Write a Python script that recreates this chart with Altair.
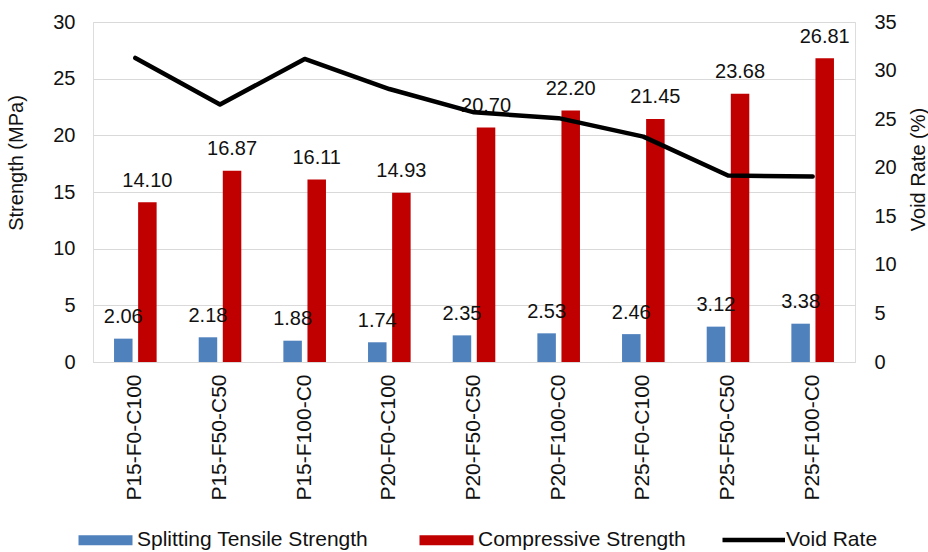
import altair as alt
import pandas as pd

# Mix designs along the x axis
categories = [
    "P15-F0-C100", "P15-F50-C50", "P15-F100-C0",
    "P20-F0-C100", "P20-F50-C50", "P20-F100-C0",
    "P25-F0-C100", "P25-F50-C50", "P25-F100-C0",
]
# Strength results (MPa)
tensile = [2.06, 2.18, 1.88, 1.74, 2.35, 2.53, 2.46, 3.12, 3.38]
compressive = [14.10, 16.87, 16.11, 14.93, 20.70, 22.20, 21.45, 23.68, 26.81]
# Void rate (%)
void_rate = [31.3, 26.5, 31.2, 28.1, 25.7, 25.1, 23.2, 19.2, 19.1]

bar_series = ["Splitting Tensile Strength", "Compressive Strength"]
bar_colors = ["#4f81bd", "#c00000"]
line_series = ["Void Rate"]
line_colors = ["#000000"]

FONT = "Liberation Sans"
TEXT = "#111111"
GRID = "#d9d9d9"

bar_rows = []
for cat, t, c in zip(categories, tensile, compressive):
    bar_rows.append({"category": cat, "series": bar_series[0], "value": t})
    bar_rows.append({"category": cat, "series": bar_series[1], "value": c})
bar_df = pd.DataFrame(bar_rows)
bar_df["label"] = bar_df["value"].map(lambda v: f"{v:.2f}")

line_df = pd.DataFrame({
    "category": categories,
    "series": line_series[0],
    "void": void_rate,
})

x_enc = alt.X(
    "category:N",
    sort=categories,
    title=None,
    scale=alt.Scale(paddingInner=0, paddingOuter=0),
    axis=alt.Axis(
        labelAngle=-90, labelFont=FONT, labelFontSize=21, labelColor=TEXT,
        ticks=False, labelPadding=12, domainColor=GRID, domainWidth=1,
        grid=False,
    ),
)
offset_enc = alt.XOffset(
    "series:N",
    sort=bar_series,
    scale=alt.Scale(paddingInner=0.232, paddingOuter=0.873),
)
y_left = alt.Y(
    "value:Q",
    scale=alt.Scale(domain=[0, 30]),
    axis=alt.Axis(
        values=[0, 5, 10, 15, 20, 25, 30], title="Strength (MPa)",
        labelFont=FONT, labelFontSize=20, labelColor=TEXT,
        titleFont=FONT, titleFontSize=20, titleFontWeight="normal", titleColor=TEXT,
        titleY=140.5, titlePadding=26,
        ticks=False, domain=False, labelPadding=18,
        grid=True, gridColor=GRID, gridWidth=1,
    ),
)

legend_common = dict(
    title=None, orient="none", direction="horizontal", padding=0,
    symbolSize=100, columnPadding=45, labelLimit=500,
    labelFont=FONT, labelFontSize=21, labelColor=TEXT,
)

color_enc = alt.Color(
    "series:N",
    sort=bar_series,
    scale=alt.Scale(domain=bar_series, range=bar_colors),
    legend=alt.Legend(
        legendX=-20, legendY=507.5, labelOffset=43,
        symbolType="M-1,-1H9.8V1H-1Z", symbolStrokeWidth=0,
        **legend_common,
    ),
)

bars = alt.Chart(bar_df).mark_bar().encode(
    x=x_enc, xOffset=offset_enc, y=y_left, color=color_enc,
)

bar_labels = alt.Chart(bar_df).mark_text(
    font=FONT, fontSize=20, color=TEXT, baseline="alphabetic", dy=-15.5,
).encode(
    x=x_enc, xOffset=offset_enc, y=y_left, text="label:N",
)

line = alt.Chart(line_df).mark_line(
    strokeWidth=4.5, strokeCap="round", strokeJoin="round",
).encode(
    x=x_enc,
    y=alt.Y(
        "void:Q",
        scale=alt.Scale(domain=[0, 35]),
        axis=alt.Axis(
            orient="right", values=[0, 5, 10, 15, 20, 25, 30, 35],
            title="Void Rate (%)",
            labelFont=FONT, labelFontSize=20, labelColor=TEXT,
            titleFont=FONT, titleFontSize=20, titleFontWeight="normal", titleColor=TEXT,
            titleAngle=-90, titleBaseline="top", titleY=147, titlePadding=12,
            ticks=False, domain=False, labelPadding=19, grid=False,
        ),
    ),
    stroke=alt.Stroke(
        "series:N",
        scale=alt.Scale(domain=line_series, range=line_colors),
        legend=alt.Legend(
            legendX=624, legendY=507.5, labelOffset=48,
            symbolType="M-1,0H11.5", symbolStrokeWidth=4.7,
            **legend_common,
        ),
    ),
)

chart = alt.layer(alt.layer(bars, bar_labels), line).resolve_scale(
    y="independent"
).properties(
    width=762,
    height=340,
    padding={"left": 93, "top": 22, "right": 73, "bottom": 190},
    autosize=alt.AutoSizeParams(type="none"),
).configure_view(
    stroke=None
).configure(
    background="white"
)

chart.save("out.html", embed_options={"renderer": "svg", "actions": False})
